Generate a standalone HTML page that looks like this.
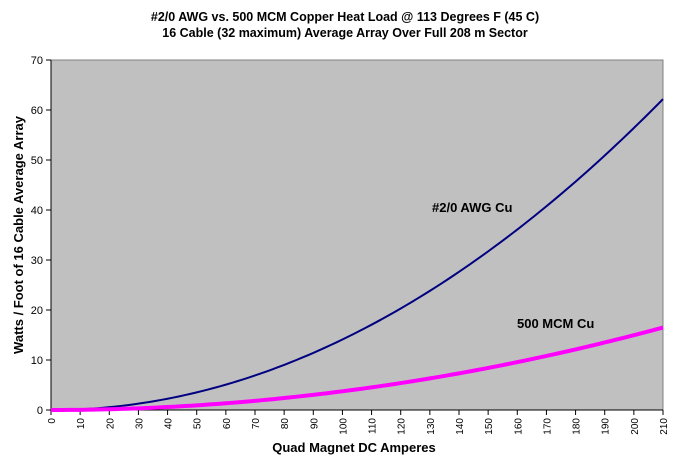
<!DOCTYPE html>
<html><head><meta charset="utf-8"><style>
body{margin:0;background:#fff;width:683px;height:467px;overflow:hidden}
text{font-family:"Liberation Sans",Arial,sans-serif}
</style></head><body>
<svg id="s" width="683" height="467" xmlns="http://www.w3.org/2000/svg">
<text x="345" y="21" text-anchor="middle" font-size="12.5" font-weight="bold">#2/0 AWG vs. 500 MCM Copper Heat Load @ 113 Degrees F (45 C)</text>
<text x="345" y="37" text-anchor="middle" font-size="12.5" font-weight="bold">16 Cable (32 maximum) Average Array Over Full 208 m Sector</text>
<rect x="51" y="60" width="612" height="350" fill="#c0c0c0" stroke="#808080"/>
<line x1="51" y1="60" x2="51" y2="410" stroke="#000"/>
<line x1="51" y1="410" x2="663" y2="410" stroke="#000"/>
<g id="ax"></g>
<polyline id="a" fill="none" stroke="#000080" stroke-width="2"/>
<polyline id="b" fill="none" stroke="#ff00ff" stroke-width="4"/>
<text x="432" y="212" font-size="13" font-weight="bold">#2/0 AWG Cu</text>
<text x="517" y="328" font-size="13" font-weight="bold">500 MCM Cu</text>
<text x="354" y="452" text-anchor="middle" font-size="13" font-weight="bold">Quad Magnet DC Amperes</text>
<text transform="translate(23,235) rotate(-90)" text-anchor="middle" font-size="13" font-weight="bold">Watts / Foot of 16 Cable Average Array</text>
</svg>
<script>
var X=function(v){return 51+v*612/210},Y=function(v){return 410-v*5};
var g='';
for(var i=0;i<=70;i+=10){g+='<line x1="46" x2="51" y1="'+Y(i)+'" y2="'+Y(i)+'" stroke="#000"/><text x="43" y="'+(Y(i)+4)+'" text-anchor="end" font-size="11">'+i+'</text>';}
for(var i=0;i<=210;i+=10){var x=X(i);g+='<line x1="'+x+'" x2="'+x+'" y1="410" y2="415" stroke="#000"/><text transform="translate('+(x+4)+',418) rotate(-90)" text-anchor="end" font-size="10">'+i+'</text>';}
document.getElementById('ax').innerHTML=g;
var a='',b='';
for(var v=0;v<=210;v+=2){a+=X(v)+','+Y(0.00141*v*v)+' ';b+=X(v)+','+Y(0.000374*v*v)+' ';}
document.getElementById('a').setAttribute('points',a);
document.getElementById('b').setAttribute('points',b);
</script>
</body></html>
